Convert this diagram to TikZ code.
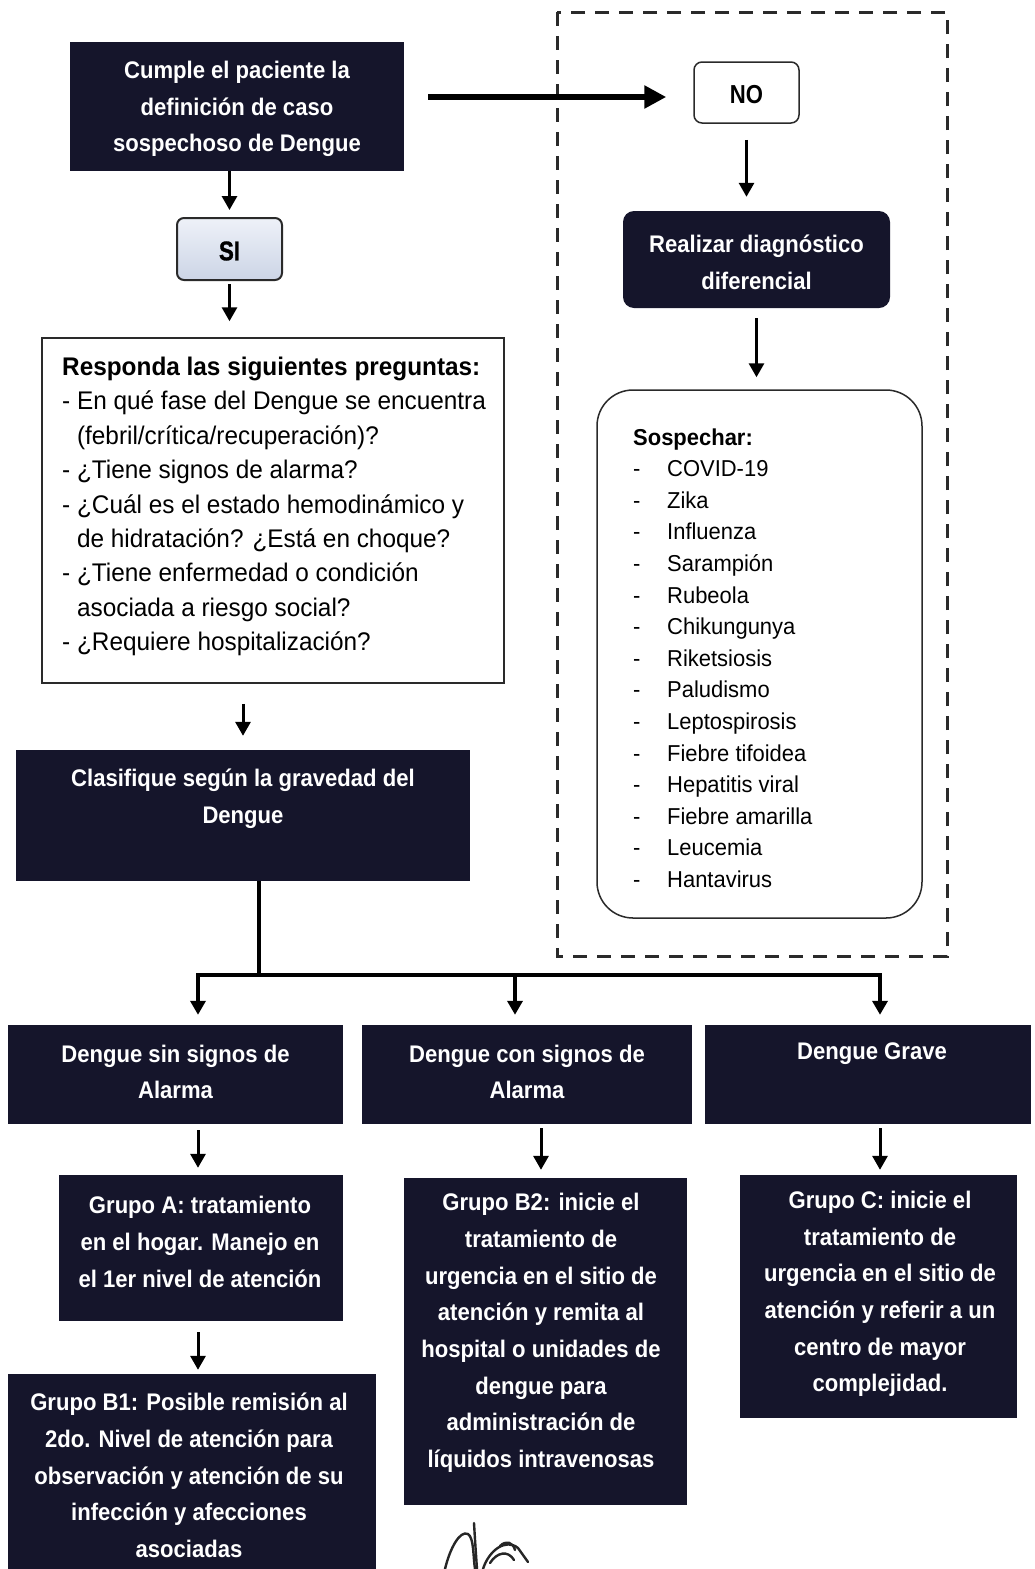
\documentclass[tikz,border=0pt]{standalone}
\usepackage{fontspec}
\setmainfont{Liberation Sans}
\newfontfamily\condf{Liberation Sans}[FakeStretch=0.92]
\newfontfamily\narrf{Liberation Sans}[FakeStretch=0.85]
\newfontfamily\slimf{Liberation Sans}[FakeStretch=0.955]
\newfontfamily\heavyf{Liberation Sans}[FakeStretch=0.82,FakeBold=1.2]
\usetikzlibrary{arrows.meta,calc}
\definecolor{boxnavy}{HTML}{15152B}
\definecolor{inkgray}{HTML}{2A2A2A}
\definecolor{sitop}{HTML}{EEF1F8}
\definecolor{sibot}{HTML}{CCD5E6}
\tikzset{
  darkbox/.style={rectangle, fill=boxnavy, draw=none, inner sep=0pt},
  wtxt/.style={text=white, font=\condf\bfseries\fontsize{24}{36.7}\selectfont, align=center, inner sep=0pt},
  arr/.style={line width=3pt, draw=black, -{Triangle[width=15pt,length=14pt]}},
  bigarr/.style={line width=6pt, draw=black, -{Triangle[width=22pt,length=22pt]}},
  treeline/.style={line width=3.5pt, draw=black},
  outline/.style={draw=inkgray, line width=1.5pt, inner sep=0pt},
}
\begin{document}
\begin{tikzpicture}[x=1pt,y=-1pt]
\useasboundingbox (0,0) rectangle (1034,1569);
\clip (0,0) rectangle (1034,1569);
\fill[white] (0,0) rectangle (1034,1569);

% dashed frame
\draw[inkgray, line width=3pt, dash pattern=on 14pt off 10pt] (557,12) rectangle (947,956);

% top-left question
\node[darkbox, minimum width=334pt, minimum height=129pt] (q) at (237,106.5) {};
\node[wtxt] (qt) at (237,109) {Cumple el paciente la\\definición de caso\\sospechoso de Dengue};

% SI
\node[draw=inkgray, line width=2pt, rounded corners=7pt, top color=sitop, bottom color=sibot,
      minimum width=105pt, minimum height=62pt, inner sep=0pt] (si) at (229.5,249) {};
\node[inner sep=0pt, font=\heavyf\bfseries\fontsize{27}{30}\selectfont] (sit) at (229.5,251) {SI};

% NO
\node[outline, rounded corners=8pt, minimum width=105pt, minimum height=61pt] (no) at (746.5,92.5) {};
\node[inner sep=0pt, font=\narrf\bfseries\fontsize{26}{30}\selectfont] (not) at (746.5,94.5) {NO};

% Realizar
\node[darkbox, rounded corners=11pt, minimum width=267pt, minimum height=97pt] (real) at (756.5,259.5) {};
\node[wtxt] (realt) at (756.5,262.5) {Realizar diagnóstico\\diferencial};

% Sospechar
\node[outline, rounded corners=36pt, minimum width=325pt, minimum height=528pt] (sos) at (759.5,654) {};
\node[anchor=west, align=left, inner sep=0pt, font=\slimf\fontsize{23}{31.6}\selectfont] (sost) at (633,658)
 {\textbf{Sospechar:}\\
  \makebox[34pt][l]{-}COVID-19\\
  \makebox[34pt][l]{-}Zika\\
  \makebox[34pt][l]{-}Influenza\\
  \makebox[34pt][l]{-}Sarampión\\
  \makebox[34pt][l]{-}Rubeola\\
  \makebox[34pt][l]{-}Chikungunya\\
  \makebox[34pt][l]{-}Riketsiosis\\
  \makebox[34pt][l]{-}Paludismo\\
  \makebox[34pt][l]{-}Leptospirosis\\
  \makebox[34pt][l]{-}Fiebre tifoidea\\
  \makebox[34pt][l]{-}Hepatitis viral\\
  \makebox[34pt][l]{-}Fiebre amarilla\\
  \makebox[34pt][l]{-}Leucemia\\
  \makebox[34pt][l]{-}Hantavirus};

% Responda
\node[outline, minimum width=462pt, minimum height=345pt] (resp) at (273,510.5) {};
\node[anchor=west, align=left, inner sep=0pt, font=\slimf\fontsize{25.5}{34.4}\selectfont] (respt) at (62,506.5)
 {\textbf{Responda las siguientes preguntas:}\\
  - En qué fase del Dengue se encuentra\\
  \hphantom{- }(febril/crítica/recuperación)?\\
  - ¿Tiene signos de alarma?\\
  - ¿Cuál es el estado hemodinámico y\\
  \hphantom{- }de hidratación? ¿Está en choque?\\
  - ¿Tiene enfermedad o condición\\
  \hphantom{- }asociada a riesgo social?\\
  - ¿Requiere hospitalización?};

% Clasifique
\node[darkbox, minimum width=454pt, minimum height=131pt] (clas) at (243,815.5) {};
\node[wtxt] (clast) at (243,798.5) {Clasifique según la gravedad del\\Dengue};

% level 2
\node[darkbox, minimum width=335pt, minimum height=99pt] (sin) at (175.5,1074.5) {};
\node[wtxt] (sint) at (175.5,1072) {Dengue sin signos de\\Alarma};
\node[darkbox, minimum width=330pt, minimum height=99pt] (con) at (527,1074.5) {};
\node[wtxt] (cont) at (527,1072) {Dengue con signos de\\Alarma};
\node[darkbox, minimum width=326pt, minimum height=99pt] (grave) at (868,1074.5) {};
\node[wtxt] (gravet) at (872,1054) {Dengue Grave};

% level 3
\node[darkbox, minimum width=284pt, minimum height=146pt] (ga) at (201,1248) {};
\node[wtxt] (gat) at (200,1242) {Grupo A: tratamiento\\en el hogar. Manejo en\\el 1er nivel de atención};
\node[darkbox, minimum width=283pt, minimum height=327pt] (gb2) at (545.5,1341.5) {};
\node[wtxt] (gb2t) at (541,1333) {Grupo B2: inicie el\\tratamiento de\\urgencia en el sitio de\\atención y remita al\\hospital o unidades de\\dengue para\\administración de\\líquidos intravenosas};
\node[darkbox, minimum width=277pt, minimum height=243pt] (gc) at (878.5,1296.5) {};
\node[wtxt] (gct) at (880,1294) {Grupo C: inicie el\\tratamiento de\\urgencia en el sitio de\\atención y referir a un\\centro de mayor\\complejidad.};

% level 4
\node[darkbox, minimum width=368pt, minimum height=240pt] (gb1) at (192,1494) {};
\node[wtxt] (gb1t) at (189,1475.5) {Grupo B1: Posible remisión al\\2do. Nivel de atención para\\observación y atención de su\\infección y afecciones\\asociadas};

% junction coordinates
\coordinate (jn) at (259,975);
\coordinate (bl) at (198,975);
\coordinate (bm) at (515,975);
\coordinate (br) at (880,975);

% connectors
\draw[bigarr, shorten <=24pt, shorten >=27pt] ([yshift=-4.5pt]q.east |- no.west) -- ([yshift=-4.5pt]no.west);
\draw[arr, shorten >=7pt] (q.south -| si.north) -- (si.north);
\draw[arr, shorten <=3pt, shorten >=16pt] (si.south) -- (si.south |- resp.north);
\draw[arr, shorten <=16pt, shorten >=14pt] (no.south) -- (no.south |- real.north);
\draw[arr, shorten <=10pt, shorten >=12pt] (real.south) -- (real.south |- sos.north);
\draw[arr, shorten <=20pt, shorten >=14pt] (resp.south -| clas.north) -- (clas.north);

\draw[treeline] (clas.south -| jn) -- (jn);
\draw[arr, line width=3.5pt, shorten >=10pt] (jn) -| (sin.north -| bl);
\draw[arr, line width=3.5pt, shorten >=10pt] (jn) -| (grave.north -| br);
\draw[arr, line width=3.5pt, shorten >=10pt] (bm) -- (con.north -| bm);

\draw[arr, shorten <=6pt, shorten >=7pt] (sin.south -| bl) -- (ga.north -| bl);
\draw[arr, shorten <=4pt, shorten >=8pt] (con.south -| gb2t.north) -- (gb2.north -| gb2t.north);
\draw[arr, shorten <=4pt, shorten >=5pt] (grave.south -| br) -- (gc.north -| br);
\draw[arr, shorten <=11pt, shorten >=4pt] (ga.south -| bl) -- (gb1.north -| bl);

% signature
\begin{scope}[line width=2.4pt, draw=black!85, line cap=round, line join=round]
\draw (445,1569) .. controls (450,1548) and (460,1530) .. (468,1534) .. controls (474,1538) and (473,1556) .. (475,1569);
\draw (474,1523) .. controls (475,1540) and (476,1555) .. (477,1569);
\draw (483,1569) .. controls (489,1550) and (506,1538) .. (518,1548) -- (528,1562);
\draw (490,1563) .. controls (497,1552) and (508,1550) .. (514,1560);
\draw (500,1546) .. controls (506,1540) and (513,1542) .. (515,1550);
\end{scope}
\end{tikzpicture}
\end{document}
